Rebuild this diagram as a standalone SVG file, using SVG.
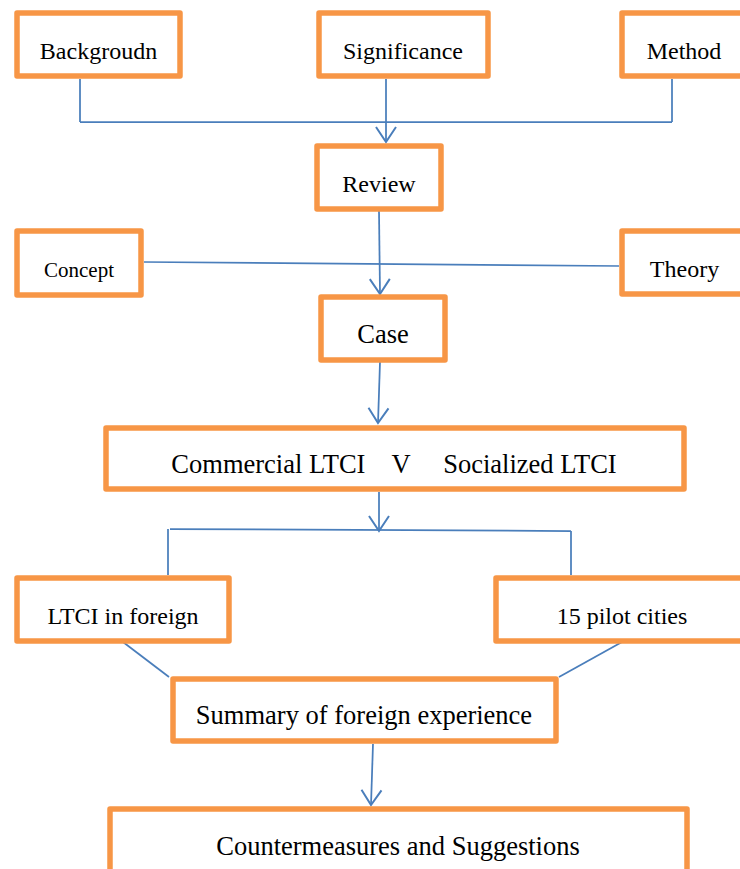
<svg xmlns="http://www.w3.org/2000/svg" width="740" height="869" viewBox="0 0 740 869">
<style>
.box{fill:#fff;stroke:#F79646;stroke-width:5.5;stroke-linejoin:round}
.t{font-family:"Liberation Serif","Times New Roman",serif;font-size:24px;fill:#000;text-anchor:middle}
.big{font-size:26.5px}
.small{font-size:21px}
.ln{fill:none;stroke:#4A7EBB;stroke-width:1.75}
.arr{marker-end:url(#ah)}
</style>
<defs>
<marker id="ah" viewBox="-17 -12 19 24" refX="0" refY="0" markerWidth="19" markerHeight="24" markerUnits="userSpaceOnUse" orient="auto">
<path d="M-15,-10 L0,0 L-15,10" fill="none" stroke="#4A7EBB" stroke-width="2"/>
</marker>
</defs>
<rect width="740" height="869" fill="#fff"/>
<g id="connectors">
<line class="ln" x1="80" y1="79" x2="80" y2="122"/>
<line class="ln" x1="672" y1="79" x2="672" y2="122"/>
<line class="ln" x1="80" y1="122" x2="672" y2="122"/>
<line class="ln arr" x1="386" y1="79" x2="386" y2="142"/>
<line class="ln" x1="144" y1="262" x2="619" y2="266"/>
<line class="ln arr" x1="379" y1="211" x2="380" y2="294"/>
<line class="ln arr" x1="380" y1="362" x2="378" y2="423"/>
<line class="ln arr" x1="379" y1="492" x2="379" y2="531"/>
<line class="ln" x1="170" y1="529" x2="571" y2="531"/>
<line class="ln" x1="168" y1="529" x2="168" y2="575"/>
<line class="ln" x1="571" y1="531" x2="571" y2="575"/>
<line class="ln" x1="123" y1="642" x2="169" y2="677"/>
<line class="ln" x1="622" y1="642" x2="559" y2="677"/>
<line class="ln arr" x1="373" y1="744" x2="371" y2="805"/>
</g>
<g id="backgroudn"><rect class="box" x="17" y="13" width="163" height="63"/><text class="t" x="98.5" y="59">Backgroudn</text></g>
<g id="significance"><rect class="box" x="319" y="13" width="169" height="63"/><text class="t" x="403" y="59">Significance</text></g>
<g id="method"><rect class="box" x="622" y="13" width="124" height="63"/><text class="t" x="684" y="59">Method</text></g>
<g id="review"><rect class="box" x="317" y="146" width="124" height="63"/><text class="t" x="379" y="192">Review</text></g>
<g id="concept"><rect class="box" x="17" y="231" width="124" height="64"/><text class="t small" x="79" y="277">Concept</text></g>
<g id="theory"><rect class="box" x="622" y="231" width="124" height="63"/><text class="t" x="684.5" y="277">Theory</text></g>
<g id="case"><rect class="box" x="321" y="297" width="124" height="63"/><text class="t big" x="383" y="343">Case</text></g>
<g id="compare"><rect class="box" x="106" y="428" width="578" height="61"/><text class="t big" x="394" y="473" xml:space="preserve">Commercial LTCI    V     Socialized LTCI</text></g>
<g id="foreign"><rect class="box" x="17" y="578" width="212" height="63"/><text class="t" x="123" y="624">LTCI in foreign</text></g>
<g id="pilot"><rect class="box" x="496" y="578" width="252" height="63"/><text class="t" x="622" y="624">15 pilot cities</text></g>
<g id="summary"><rect class="box" x="173" y="679" width="383" height="62"/><text class="t big" x="364" y="724">Summary of foreign experience</text></g>
<g id="countermeasures"><rect class="box" x="110" y="809" width="577" height="80"/><text class="t big" x="398" y="855">Countermeasures and Suggestions</text></g>
</svg>
